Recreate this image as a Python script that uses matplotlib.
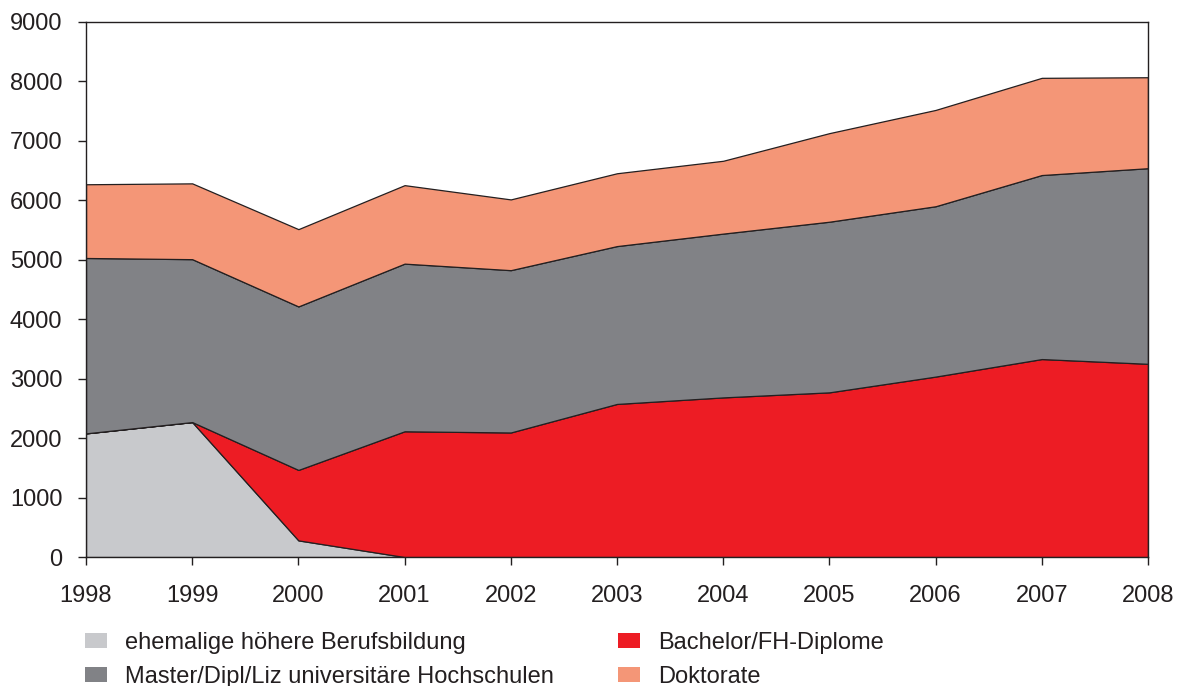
import matplotlib
matplotlib.use("Agg")
import matplotlib.pyplot as plt
import matplotlib.patches as mpatches

plt.rcParams["font.family"] = ["Liberation Sans", "DejaVu Sans"]

years = [1998, 1999, 2000, 2001, 2002, 2003, 2004, 2005, 2006, 2007, 2008]
ehemalige = [2080, 2270, 280, 0, 0, 0, 0, 0, 0, 0, 0]
bachelor = [0, 0, 1185, 2115, 2095, 2575, 2685, 2770, 3035, 3330, 3250]
master = [2950, 2740, 2750, 2820, 2730, 2655, 2755, 2870, 2865, 3095, 3290]
doktorate = [1240, 1275, 1300, 1320, 1190, 1225, 1225, 1490, 1620, 1635, 1530]

labels = ["ehemalige höhere Berufsbildung", "Bachelor/FH-Diplome",
          "Master/Dipl/Liz universitäre Hochschulen", "Doktorate"]
colors = ["#c8c9cc", "#ed1c24", "#818286", "#f49677"]
ink = "#231f20"

fig = plt.figure(figsize=(11.78, 6.86), dpi=100)
ax = fig.add_axes([0.073, 0.188, 0.9015, 0.78])

ax.stackplot(years, ehemalige, bachelor, master, doktorate,
             colors=colors, edgecolor=ink, linewidth=0.9)

ax.set_xlim(1998, 2008)
ax.set_ylim(0, 9000)
ax.set_xticks(years)
ax.set_yticks(range(0, 9001, 1000))
ax.tick_params(direction="out", length=6, width=1, color=ink,
               labelsize=17, labelcolor=ink)
ax.tick_params(axis="x", pad=14)
ax.tick_params(axis="y", pad=11)
for s in ax.spines.values():
    s.set_color(ink)
    s.set_linewidth(1)

# legend order: column-major, two columns
order = [0, 2, 1, 3]
handles = [mpatches.Patch(facecolor=colors[i], edgecolor="none", label=labels[i]) for i in order]
fig.legend(handles=handles, loc="upper left", bbox_to_anchor=(0.072, 0.079),
           ncol=2, frameon=False, fontsize=17, handlelength=0.93, handleheight=0.6,
           handletextpad=0.76, columnspacing=2.72, labelspacing=0.5,
           borderaxespad=0, borderpad=0, labelcolor=ink)

fig.savefig("out.png", dpi=100, facecolor="white")
